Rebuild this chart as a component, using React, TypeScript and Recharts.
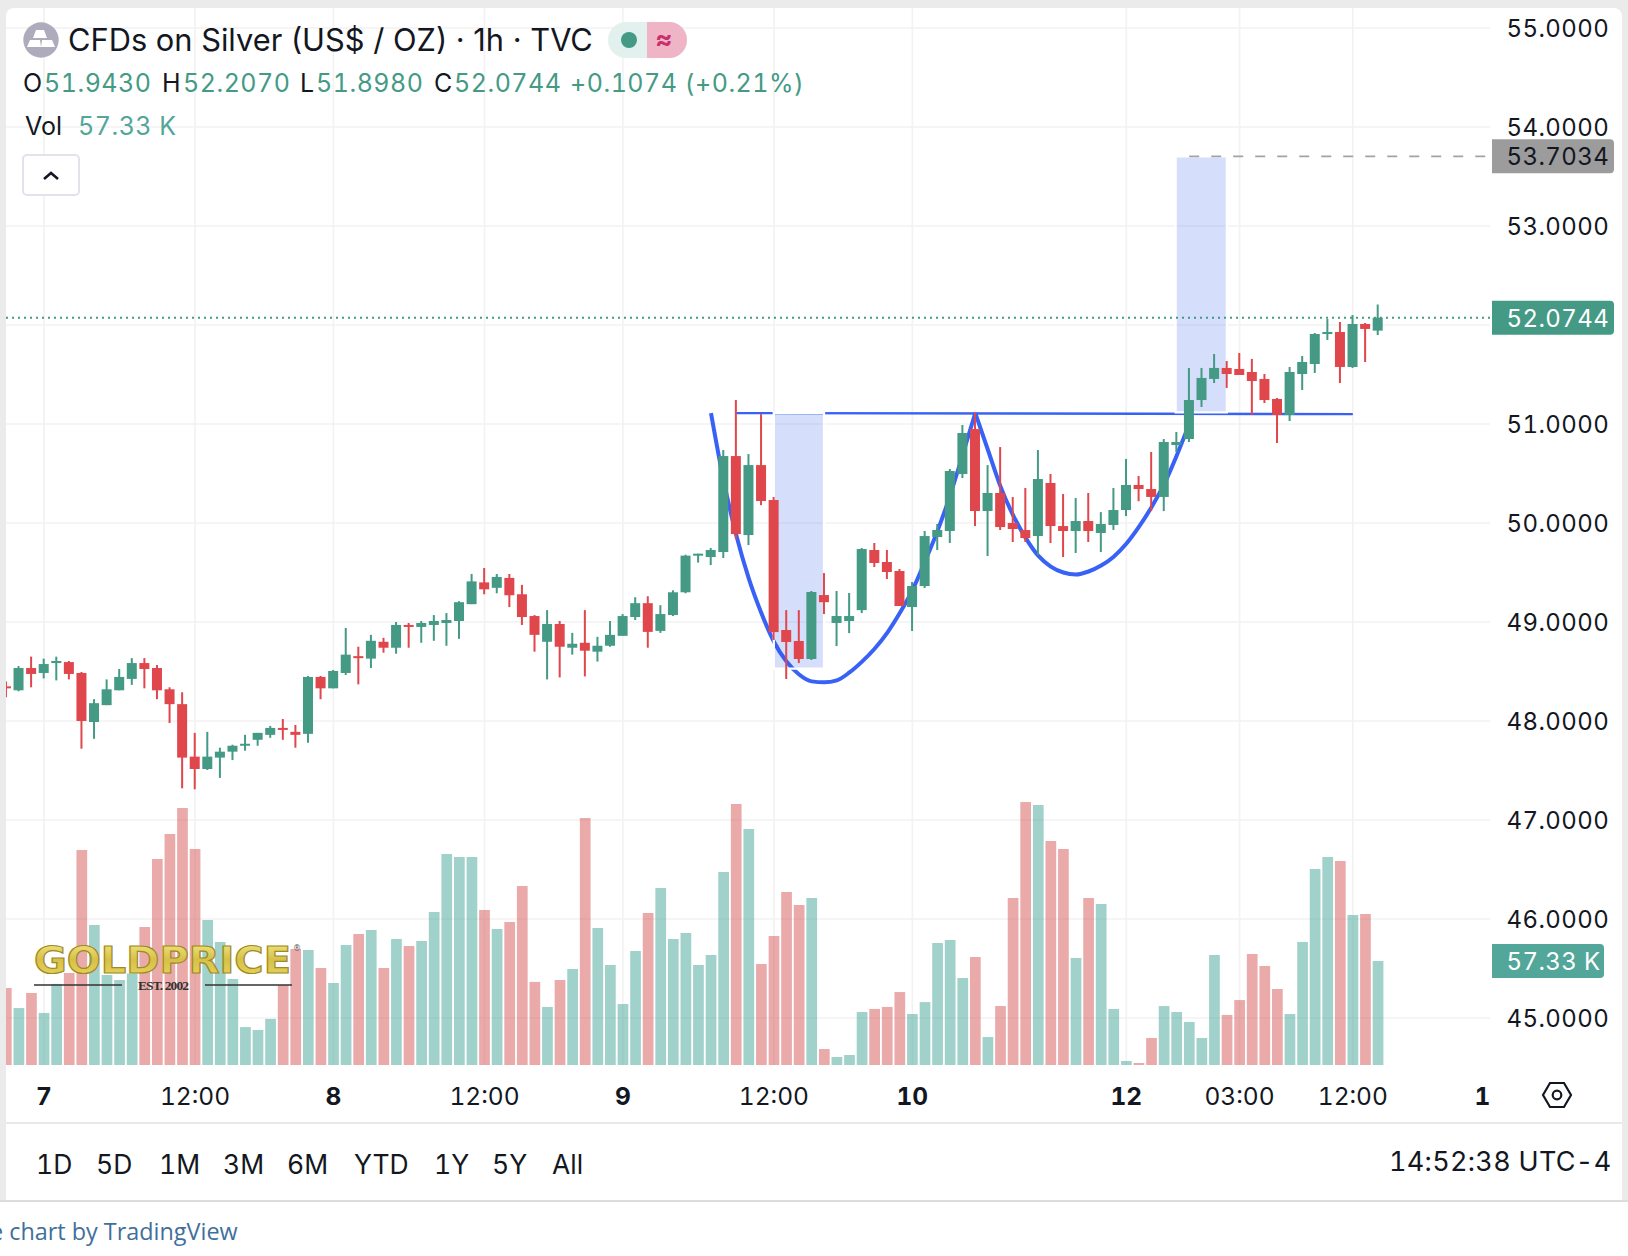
import React from "react";
import {
  ComposedChart, Bar, Line, XAxis, YAxis, CartesianGrid, ReferenceArea, ReferenceLine, Cell,
} from "recharts";

const FIRST_INDEX = -3;
const opens = [
  48.35,48.31,48.535,48.485,48.585,48.595,48.485,47.99,48.16,48.31,
  48.425,48.585,48.535,48.32,48.17,47.64,47.515,47.63,47.69,47.75,
  47.81,47.86,47.93,47.89,47.87,48.445,48.33,48.485,48.655,48.63,
  48.80,48.74,48.97,48.95,48.97,48.99,49.01,49.18,49.40,49.345,
  49.445,49.28,49.06,48.80,48.98,48.74,48.79,48.70,48.76,48.86,
  49.05,49.19,48.91,49.07,49.30,49.67,49.656,49.707,50.676,49.878,
  50.585,50.232,48.919,48.808,48.626,49.272,48.99,49.01,49.12,49.727,
  49.606,49.515,49.151,49.363,49.858,49.919,50.495,50.949,50.121,50.303,
  50.00,49.929,49.868,50.404,49.969,49.919,50.02,49.899,49.98,50.131,
  50.384,50.343,50.263,50.788,50.848,51.242,51.455,51.566,51.556,51.525,
  51.455,51.253,51.091,51.505,51.606,51.909,51.929,51.576,52.01,51.943,
];
const closes = [
  48.33,48.535,48.475,48.575,48.606,48.475,48.00,48.18,48.32,48.445,
  48.585,48.525,48.31,48.17,47.63,47.515,47.64,47.69,47.75,47.77,
  47.88,47.93,47.91,47.86,48.445,48.33,48.505,48.67,48.635,48.81,
  48.74,48.97,48.95,48.99,49.01,49.02,49.20,49.41,49.33,49.455,
  49.27,49.05,48.87,48.98,48.75,48.78,48.71,48.76,48.87,49.06,
  49.19,48.90,49.08,49.30,49.67,49.69,49.727,50.676,49.888,50.585,
  50.222,48.898,48.798,48.626,49.303,49.20,49.06,49.06,49.737,49.596,
  49.505,49.161,49.363,49.868,49.929,50.525,50.909,50.121,50.303,49.959,
  49.939,49.848,50.444,49.969,49.919,50.02,49.919,49.99,50.131,50.384,
  50.343,50.263,50.818,50.818,51.242,51.465,51.566,51.505,51.495,51.434,
  51.242,51.091,51.525,51.626,51.909,51.929,51.576,52.01,51.96,52.0744,
];
const highs = [
  48.40,48.555,48.65,48.63,48.65,48.606,48.495,48.22,48.42,48.525,
  48.635,48.635,48.565,48.34,48.29,47.88,47.89,47.73,47.76,47.86,
  47.88,47.95,48.02,47.96,48.455,48.455,48.515,48.94,48.75,48.87,
  48.84,49.00,48.99,49.01,49.07,49.09,49.21,49.485,49.545,49.485,
  49.485,49.375,49.07,49.12,49.01,48.89,49.12,48.85,49.01,49.08,
  49.25,49.26,49.17,49.32,49.68,49.69,49.747,50.737,51.242,50.696,
  51.10,50.262,49.12,49.12,49.313,49.494,49.313,49.293,49.747,49.798,
  49.727,49.535,49.404,49.919,49.99,50.545,50.99,51.117,50.585,50.767,
  50.262,50.353,50.737,50.495,50.293,50.252,50.303,50.11,50.353,50.646,
  50.475,50.717,50.848,50.919,51.566,51.566,51.707,51.636,51.717,51.657,
  51.505,51.263,51.576,51.687,51.919,52.06,52.03,52.10,52.02,52.207,
];
const lows = [
  48.24,48.30,48.34,48.43,48.41,48.42,47.72,47.82,48.16,48.31,
  48.365,48.33,48.22,47.98,47.32,47.31,47.505,47.425,47.605,47.70,
  47.75,47.83,47.81,47.73,47.78,48.22,48.33,48.465,48.37,48.535,
  48.69,48.68,48.74,48.79,48.81,48.76,48.83,49.18,49.28,49.29,
  49.15,48.97,48.70,48.42,48.44,48.67,48.45,48.60,48.75,48.86,
  49.02,48.74,48.89,49.06,49.29,49.60,49.575,49.646,49.838,49.777,
  50.18,48.818,48.424,48.585,48.616,49.08,48.757,48.888,49.09,49.555,
  49.434,49.161,48.909,49.343,49.727,49.798,50.454,49.969,49.666,49.929,
  49.808,49.808,49.676,49.798,49.656,49.697,49.808,49.707,49.93,50.07,
  50.22,50.12,50.12,50.717,50.818,51.172,51.414,51.364,51.495,51.09,
  51.212,50.808,51.03,51.343,51.515,51.849,51.414,51.566,51.626,51.898,
];
const volumes = [
  42.4,31.4,39.7,28.7,44.7,50.7,118.5,77.2,49.6,46.9,
  50.5,76.1,113.6,127.3,141.7,119.1,79.9,67.8,47.4,20.9,
  19.3,25.4,44.1,63.9,63.4,53.5,45.2,66.2,72.2,74.4,
  53.5,69.5,65.6,68.4,84.3,116.3,114.7,114.7,85.4,75.0,
  78.8,98.7,45.8,32.0,46.9,52.9,136.2,75.5,55.1,33.6,
  62.8,83.8,97.6,69.5,72.8,55.1,60.6,106.4,143.9,130.1,
  55.7,71.1,95.4,88.2,92.1,8.8,4.4,5.5,29.2,30.9,
  32.0,40.2,28.1,34.7,67.3,68.9,48.0,59.5,15.4,32.5,
  92.1,145.0,143.3,123.5,119.1,59.0,92.1,88.8,30.9,2.2,
  1.1,14.9,32.5,29.2,23.7,14.9,60.6,27.6,35.8,61.2,
  54.6,41.9,28.1,67.8,108.0,114.7,112.5,82.7,83.2,57.33,
];

// Hand-drawn cup and handle, read at each candle.
const CUP_START = 53;
const cupValues = [
  51.11,50.43,49.88,49.44,49.09,48.80,48.60,48.47,48.40,48.39,48.41,
  48.49,48.60,48.73,48.89,49.09,49.32,49.61,49.92,50.28,50.69,51.11,
];
const HANDLE_START = 74;
const handleValues = [
  51.11,50.74,50.37,50.08,49.85,49.67,49.56,49.50,49.48,49.51,49.57,
  49.66,49.79,49.96,50.16,50.39,50.68,51.0,
];
const neckIndices = [55, 104];
const neckValues = [51.11, 51.10];

const gridPrices = [45, 46, 47, 48, 49, 50, 51, 52, 53, 54, 55];
const priceLabels = [45, 46, 47, 48, 49, 50, 51, 53, 54, 55];
const timeTicks = [0, 12, 23, 35, 46, 58, 69, 86, 95, 104, 114.3];
const timeLabels = ["7", "12:00", "8", "12:00", "9", "12:00", "10", "12", "03:00", "12:00", "1"];
const timeBold = ["7", "8", "9", "10", "12", "1"];
const gridTimes = [0, 12, 23, 35, 46, 58, 69, 86, 95, 104];
const rangeTabs = ["1D", "5D", "1M", "3M", "6M", "YTD", "1Y", "5Y", "All"];
const rangeTabLefts = [36, 96, 159, 223, 287, 354, 434, 492, 552];

const LAST_PRICE = 52.0744;
const TARGET_PRICE = 53.7034;
const LAST_VOLUME = 57.33;

const table = opens.map((open, k) => {
  const i = FIRST_INDEX + k;
  const cup = i - CUP_START >= 0 && i - CUP_START < cupValues.length ? cupValues[i - CUP_START] : null;
  const handle = i - HANDLE_START >= 0 && i - HANDLE_START < handleValues.length ? handleValues[i - HANDLE_START] : null;
  const ni = neckIndices.indexOf(i);
  return {
    i, open, close: closes[k], high: highs[k], low: lows[k], volume: volumes[k],
    cup, handle, neck: ni >= 0 ? neckValues[ni] : null,
  };
});

const GREEN = "#449a85";
const RED = "#e0474c";
const FONT = "Inter, sans-serif";
const INK = "#131722";
const TNUM = { fontVariantNumeric: "tabular-nums" };

function Candle(props: any) {
  const { x, y, width, height, payload } = props;
  const { open, close, high, low } = payload;
  const k = height / (high - low);
  const up = close >= open;
  const color = up ? GREEN : RED;
  const top = y + (high - Math.max(open, close)) * k;
  const h = Math.max(Math.abs(open - close) * k, 2);
  const cx = x + width / 2;
  return (
    <g>
      <rect x={cx - 1} y={y} width={2} height={height} fill={color} />
      <rect x={cx - 5} y={top} width={10} height={h} fill={color} />
    </g>
  );
}

function PriceTick(props: any) {
  const { y, payload } = props;
  return (
    <text x={1506.5} y={y} dy={9} fontFamily={FONT} fontSize={24} fill={INK} letterSpacing={0.4} style={TNUM}>
      {payload.value.toFixed(4)}
    </text>
  );
}

function TimeTick(props: any) {
  const { x, y, payload } = props;
  const label = timeLabels[timeTicks.indexOf(payload.value)];
  const bold = timeBold.includes(label);
  return (
    <text x={x} y={y + 32} textAnchor="middle" fontFamily={FONT} fontSize={24.5} fontWeight={bold ? 700 : 400} fill={INK} style={TNUM}>
      {label}
    </text>
  );
}

function Tag(props: any) {
  const { viewBox, text, fill, color, right } = props;
  const ty = viewBox.y;
  const x0 = 1492;
  const w = right - x0;
  return (
    <g>
      <path d={`M${x0} ${ty - 17}H${x0 + w - 4}a4 4 0 0 1 4 4V${ty + 13}a4 4 0 0 1 -4 4H${x0}Z`} fill={fill} />
      <text x={1506.5} y={ty + 9} fontFamily={FONT} fontSize={24} fill={color} letterSpacing={0.4} style={TNUM}>{text}</text>
    </g>
  );
}

const abs = (left: number, top: number, extra: any = {}) => ({ position: "absolute", left, top, lineHeight: 1, whiteSpace: "nowrap", fontFamily: FONT, ...TNUM, ...extra });

function Header() {
  const green = { color: GREEN };
  return (
    <>
      <svg style={{ position: "absolute", left: 23, top: 22 }} width={36} height={36} viewBox="0 0 36 36">
        <circle cx={18} cy={18} r={17.7} fill="#aeabbc" />
        <path d="M13 8h8l3 8H10zM7 18h10l1 7H4zM19 18h10l3 7H18z" fill="#fff" />
      </svg>
      <div style={abs(68, 25, { fontSize: 30.8, color: INK, fontVariantNumeric: "normal" })}>CFDs on Silver (US$ / OZ) · 1h · TVC</div>
      <div style={{ position: "absolute", left: 608, top: 22, width: 79, height: 36, borderRadius: 18, overflow: "hidden", background: "#e3f1ee" }}>
        <div style={{ position: "absolute", left: 39, top: 0, width: 40, height: 36, background: "#efb5c7" }} />
        <div style={{ position: "absolute", left: 13, top: 10, width: 16, height: 16, borderRadius: 8, background: GREEN }} />
        <div style={{ position: "absolute", left: 47, top: 4, fontFamily: FONT, fontSize: 26, fontWeight: 700, lineHeight: 1, color: "#c8316a" }}>≈</div>
      </div>
      <div style={abs(23, 71, { fontSize: 25, color: INK })}>O</div>
      <div style={abs(44, 71, { fontSize: 25, letterSpacing: 0.5, ...green })}>51.9430</div>
      <div style={abs(162, 71, { fontSize: 25, color: INK })}>H</div>
      <div style={abs(183, 71, { fontSize: 25, letterSpacing: 0.5, ...green })}>52.2070</div>
      <div style={abs(300, 71, { fontSize: 25, color: INK })}>L</div>
      <div style={abs(316, 71, { fontSize: 25, letterSpacing: 0.5, ...green })}>51.8980</div>
      <div style={abs(434, 71, { fontSize: 25, color: INK })}>C</div>
      <div style={abs(454, 71, { fontSize: 25, letterSpacing: 0.5, ...green })}>52.0744</div>
      <div style={abs(570, 71, { fontSize: 25, letterSpacing: 0.5, ...green })}>+0.1074 (+0.21%)</div>
      <div style={abs(25, 114, { fontSize: 25, color: INK })}>Vol</div>
      <div style={abs(78, 114, { fontSize: 25, letterSpacing: 0.5, color: "#52a69a" })}>57.33 K</div>
      <div style={{ position: "absolute", left: 22, top: 154, width: 54, height: 38, border: "2px solid #e0e3eb", borderRadius: 5, background: "#fff" }}>
        <svg style={{ position: "absolute", left: 17, top: 12 }} width={20} height={14} viewBox="0 0 20 14">
          <path d="M3 11l7-6 7 6" fill="none" stroke={INK} strokeWidth={2.6} />
        </svg>
      </div>
    </>
  );
}

function Logo() {
  return (
    <svg style={{ position: "absolute", left: 0, top: 930 }} width={320} height={70}>
      <defs>
        <linearGradient id="gold" x1="0" y1="0" x2="0" y2="1">
          <stop offset="0" stopColor="#f7ee8e" />
          <stop offset="0.5" stopColor="#d7c04a" />
          <stop offset="1" stopColor="#e8d860" />
        </linearGradient>
      </defs>
      <text x={34} y={42.5} fontFamily="DejaVu Sans" fontWeight={700} fontSize={38} textLength={257} lengthAdjust="spacingAndGlyphs" fill="url(#gold)" stroke="#a08a22" strokeWidth={1.2}>GOLDPRICE</text>
      <text x={293} y={21} fontFamily="DejaVu Sans" fontSize={8} fill="#555">®</text>
      <line x1={34} x2={122} y1={55} y2={55} stroke="#333" strokeWidth={1.5} />
      <line x1={205} x2={292} y1={55} y2={55} stroke="#333" strokeWidth={1.5} />
      <text x={138} y={60} fontFamily="Liberation Serif" fontWeight={700} fontSize={13.5} fill="#333" textLength={51}>EST. 2002</text>
    </svg>
  );
}

function Footer() {
  return (
    <>
      <div style={{ position: "absolute", left: 6, top: 1122, width: 1616, height: 2, background: "#e9e9e9" }} />
      {rangeTabs.map((t, k) => (
        <div key={t} style={abs(rangeTabLefts[k], 1151, { fontSize: 26.5, color: INK })}>{t}</div>
      ))}
      <div style={abs(1389, 1148, { fontSize: 27, color: INK, letterSpacing: 0.3 })}>14:52:38 UTC-4</div>
      <svg style={{ position: "absolute", left: 1541, top: 1080 }} width={32} height={30} viewBox="0 0 32 30">
        <path d="M9 3H23L30 15L23 27H9L2 15Z" fill="none" stroke={INK} strokeWidth={2.2} />
        <circle cx={16} cy={15} r={4.3} fill="none" stroke={INK} strokeWidth={2.2} />
      </svg>
      <div style={{ position: "absolute", left: 0, top: 1200, width: 1628, height: 2, background: "#dcdcdc" }} />
      <div style={abs(-10, 1220, { fontSize: 23.4, color: "#3f6f9b", fontFamily: "'Open Sans', sans-serif" })}>e chart by TradingView</div>
    </>
  );
}

export default function App() {
  return (
    <div style={{ position: "absolute", left: 0, top: 0, width: 1628, height: 1256, background: "#fff", overflow: "hidden" }}>
      <div style={{ position: "absolute", left: 0, top: 0, width: 1628, height: 1200, background: "#ebebeb" }} />
      <div style={{ position: "absolute", left: 6, top: 8, width: 1616, height: 1192, background: "#fff", borderRadius: "8px 8px 0 0" }} />
      <div style={{ position: "absolute", left: 0, top: 0 }}>
        <ComposedChart width={1628} height={1256} data={table} margin={{ top: 8, right: 0, left: 6, bottom: 133 }}>
          <CartesianGrid stroke="#f2f2f2" strokeWidth={1.6} verticalValues={gridTimes} horizontalValues={gridPrices} />
          <XAxis dataKey="i" type="number" scale="linear" domain={[-3.019, 114.9]} allowDataOverflow ticks={timeTicks} interval={0} height={58} axisLine={false} tickLine={false} tick={<TimeTick />} />
          <XAxis xAxisId="vol" dataKey="i" type="number" scale="linear" domain={[-3.019, 114.9]} allowDataOverflow hide />
          <YAxis orientation="right" type="number" domain={[44.525, 55.202]} allowDataOverflow ticks={priceLabels} interval={0} width={138} axisLine={false} tickLine={false} tick={<PriceTick />} />
          <YAxis yAxisId="vol" type="number" domain={[0, 582.7]} hide />

          <Bar xAxisId="vol" yAxisId="vol" dataKey="volume" barSize={10.7} isAnimationActive={false} fillOpacity={0.5} zIndex={150}>
            {table.map((d) => (
              <Cell key={d.i} fill={d.close >= d.open ? "#43a397" : "#d35553"} />
            ))}
          </Bar>

          <Line dataKey="cup" type="monotone" stroke="#3861f6" strokeWidth={4} dot={false} activeDot={false} isAnimationActive={false} zIndex={200} />
          <Line dataKey="handle" type="monotone" stroke="#3861f6" strokeWidth={4} dot={false} activeDot={false} isAnimationActive={false} zIndex={200} />
          <Line dataKey="neck" type="linear" connectNulls stroke="#3861f6" strokeWidth={2.4} dot={false} activeDot={false} isAnimationActive={false} zIndex={200} />

          <ReferenceArea x1={57.99} x2={61.98} y1={48.528} y2={51.112} fill="#2d5ae6" fillOpacity={0.2} stroke="#fff" strokeWidth={2.3} zIndex={250} />
          <ReferenceArea x1={89.92} x2={93.99} y1={51.118} y2={TARGET_PRICE} fill="#2d5ae6" fillOpacity={0.2} stroke="#fff" strokeWidth={2.3} zIndex={250} />

          <Bar dataKey={(d: any) => [d.low, d.high]} barSize={10} shape={<Candle />} isAnimationActive={false} zIndex={300} />

          <ReferenceLine y={LAST_PRICE} stroke={GREEN} strokeWidth={2} strokeDasharray="2 4" zIndex={400} label={<Tag text="52.0744" fill={GREEN} color="#fff" right={1614} />} />
          <ReferenceLine segment={[{ x: 91, y: TARGET_PRICE }, { x: 114.9, y: TARGET_PRICE }]} stroke="#a3a3a3" strokeWidth={1.6} strokeDasharray="10 12" />
          <ReferenceLine y={TARGET_PRICE} stroke="none" label={<Tag text="53.7034" fill="#9c9c9c" color={INK} right={1614} />} />
          <ReferenceLine yAxisId="vol" xAxisId="vol" y={LAST_VOLUME} stroke="none" label={<Tag text="57.33 K" fill="#52a69a" color="#fff" right={1604} />} />
        </ComposedChart>
      </div>
      <Header />
      <Logo />
      <Footer />
    </div>
  );
}
